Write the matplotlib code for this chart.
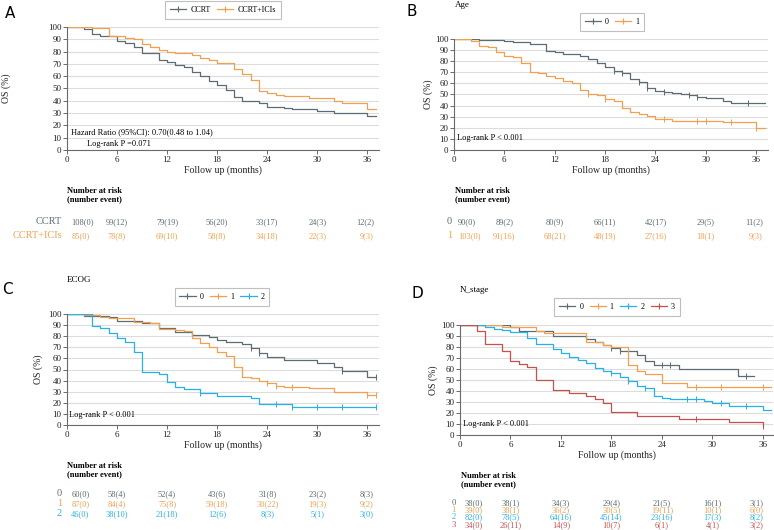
import matplotlib
matplotlib.use('Agg')
import matplotlib.pyplot as plt
import matplotlib.transforms as mtransforms
from matplotlib.lines import Line2D

plt.rcParams['font.family'] = ['Liberation Serif', 'DejaVu Serif']

GRAY = '#5c6c73'
ORANGE = '#f0a04e'
BLUE = '#27b1e6'
RED = '#c4514d'

W, H = 774, 530

# ---------------- data: panel A ----------------
a_ccrt_t = [0, 2, 3, 4, 5, 6, 7, 8, 9, 11, 12, 13, 14, 15, 16, 17, 18, 19, 20, 21, 23, 24, 26, 27, 30, 32, 36]
a_ccrt_s = [100, 98.5, 94, 93, 92.5, 89, 87, 84, 79, 73, 71.5, 69, 67.5, 63.5, 60, 56.5, 53, 48.5, 43, 39.5, 38,
            35, 34, 33, 31.5, 30, 27.5]
a_ccrt_end = 37
a_ccrt_cens = []
a_ici_t = [0, 3, 5, 7, 8, 9, 10, 11, 12, 13, 15, 16, 17, 18, 20, 21, 22, 23, 24, 25, 26, 29, 32, 33, 36]
a_ici_s = [100, 99, 92.5, 91, 90, 86, 84, 81.5, 80, 79, 77, 74.5, 73.5, 70.5, 66, 61.5, 57, 48, 46, 45, 43.5,
           42, 40, 38, 33]
a_ici_end = 37
a_ici_cens = []
a_labels = ['CCRT', 'CCRT+ICIs']
a_risk_ccrt = ['108(0)', '99(12)', '79(19)', '56(20)', '33(17)', '24(3)', '12(2)']
a_risk_ici = ['85(0)', '78(8)', '69(10)', '58(8)', '34(18)', '22(3)', '9(3)']

# ---------------- data: panel B (Age) ----------------
b0_t = [0, 3, 6, 7, 9, 11, 12, 13, 15, 16, 17, 18, 19, 20, 21, 22, 23, 24, 25, 26, 27, 28, 29, 30, 32, 33]
b0_s = [100, 99.5, 98.5, 97, 95.5, 89, 88, 86.5, 84.5, 82, 78, 75, 71.5, 69, 64, 61.5, 56, 53.5, 52, 51, 50,
        49.5, 48, 46.5, 44, 42]
b0_end = 37
b0_cens = [19, 20, 22, 23, 25, 28, 29, 35]
b1_t = [0, 2, 3, 4, 5, 6, 7, 8, 9, 10, 11, 12, 13, 14, 15, 16, 17, 18, 19, 20, 21, 22, 23, 24, 26, 32, 36]
b1_s = [100, 98, 94, 92.5, 88.5, 84.5, 83.5, 78, 70, 69, 66.5, 65, 62, 60.5, 54.5, 50.5, 49.5, 45.5, 44.5,
        37.5, 34.5, 32.5, 30.5, 28, 26.5, 25, 19.5]
b1_end = 37
b1_cens = [16, 18, 25, 29, 30, 33, 36]
b_risk0 = ['90(0)', '89(2)', '80(9)', '66(11)', '42(17)', '29(5)', '11(2)']
b_risk1 = ['103(0)', '91(16)', '68(21)', '48(19)', '27(16)', '18(1)', '9(3)']

# ---------------- data: panel C (ECOG) ----------------
c0_t = [0, 2, 5, 6, 9, 11, 13, 15, 17, 18, 19, 21, 22, 23, 24, 26, 30, 32, 33, 36]
c0_s = [100, 98.5, 97, 93.5, 91.5, 87, 83.5, 81.5, 79, 77, 75, 73, 69, 64.5, 61, 59, 56, 52.5, 49, 43]
c0_end = 37
c0_cens = [22, 23, 33, 37]
c1_t = [0, 2, 4, 5, 8, 10, 11, 13, 14, 15, 16, 17, 18, 19, 20, 21, 22, 23, 24, 25, 26, 29, 32, 36]
c1_s = [100, 99, 97.5, 96.5, 93, 92, 86.5, 85.5, 85, 78, 73.5, 70, 65.5, 62, 52, 43.5, 42.5, 40, 37.5, 35.5,
        34.5, 33, 30, 27]
c1_end = 37
c1_cens = [24, 25, 27, 36, 37]
c2_t = [0, 3, 4, 5, 6, 7, 8, 9, 11, 12, 13, 14, 16, 18, 22, 23, 27]
c2_s = [100, 89, 87, 82.5, 78.5, 74.5, 65.5, 48, 45.5, 39, 34.5, 32.5, 28.5, 26, 24, 19, 16.5]
c2_end = 37
c2_cens = [16, 25, 27, 30, 33, 37]
c_risk0 = ['60(0)', '58(4)', '52(4)', '43(6)', '31(8)', '23(2)', '8(3)']
c_risk1 = ['87(0)', '84(4)', '75(8)', '59(18)', '30(22)', '19(3)', '9(2)']
c_risk2 = ['46(0)', '38(10)', '21(18)', '12(6)', '8(3)', '5(1)', '3(0)']

# ---------------- data: panel D (N_stage) ----------------
d0_t = [0, 6, 7, 9, 11, 15, 16, 17, 18, 19, 21, 22, 23, 26, 33]
d0_s = [100, 98, 95, 94.5, 90, 87, 84.5, 82, 79, 76, 73, 67, 63.5, 60, 53.5]
d0_end = 35
d0_cens = [18, 19, 24, 25, 34]
d1_t = [0, 5, 9, 10, 15, 17, 18, 20, 21, 22, 24, 27]
d1_s = [100, 98.5, 95, 92.5, 84.5, 82, 80, 64, 58.5, 55.5, 47, 44]
d1_end = 37
d1_cens = [28, 31, 36]
d2_t = [0, 3, 4, 5, 6, 8, 9, 11, 12, 13, 14, 15, 16, 17, 18, 19, 20, 21, 22, 23, 24, 25, 29, 30, 32, 36]
d2_s = [100, 98, 96.5, 95.5, 94, 88, 83, 78, 74.5, 71, 68, 65.5, 61, 58.5, 56.5, 53, 49, 45, 43, 35.5, 34, 33,
        31, 29.5, 26.5, 23]
d2_end = 37
d2_cens = [18, 20, 22, 27, 28, 31, 34]
d3_t = [0, 2, 3, 5, 6, 7, 8, 9, 11, 13, 15, 16, 17, 18, 21, 26, 32, 36]
d3_s = [100, 94.5, 82.5, 76, 67.5, 64.5, 62, 50, 41, 38, 35.5, 32.5, 29.5, 20.5, 17.5, 15, 11.5, 8]
d3_end = 36
d3_cens = [28, 36]
d_risk0 = ['38(0)', '38(1)', '34(3)', '29(4)', '21(5)', '16(1)', '3(1)']
d_risk1 = ['39(0)', '38(1)', '36(2)', '30(5)', '19(11)', '10(1)', '6(0)']
d_risk2 = ['82(0)', '78(5)', '64(16)', '45(14)', '23(16)', '17(3)', '8(2)']
d_risk3 = ['34(0)', '26(11)', '14(9)', '10(7)', '6(1)', '4(1)', '3(2)']

risk_times = [0, 6, 12, 18, 24, 30, 36]

fig = plt.figure(figsize=(W / 100, H / 100), dpi=100)


def fy(px):
    return 1 - px / H


def make_axes(left, right, top, bottom, xmax):
    ax = fig.add_axes([left / W, fy(bottom), (right - left) / W, (bottom - top) / H])
    ax.set_xlim(0, xmax)
    ax.set_ylim(0, 100)
    ax.set_xticks([0, 6, 12, 18, 24, 30, 36])
    ax.set_yticks(range(0, 101, 10))
    ax.grid(axis='y', color='#dcdcdc', linewidth=0.8)
    ax.set_axisbelow(True)
    for s in ['top', 'right']:
        ax.spines[s].set_visible(False)
    for s in ['left', 'bottom']:
        ax.spines[s].set_color('#6a6a6a')
        ax.spines[s].set_linewidth(0.8)
    ax.tick_params(labelsize=6.5, length=3, width=0.7, color='#6a6a6a', pad=1, labelcolor='#222222')
    ax.set_xlabel('Follow up (months)', fontsize=7, labelpad=1, color='#222222')
    ax.set_ylabel('OS (%)', fontsize=7, labelpad=2, color='#222222')
    return ax


def km(ax, t, s, end, cens, color):
    ax.step(t + [end], s + [s[-1]], where='post', color=color, linewidth=0.9)
    cy = []
    for c in cens:
        idx = max(i for i, ti in enumerate(t) if ti <= c)
        cy.append(s[idx])
    if cens:
        ax.plot(cens, cy, linestyle='none', marker='|', markersize=4.5, markeredgewidth=0.7, color=color)


def legend(ax, labels, colors, cx, cy):
    handles = [Line2D([0], [0], color=c, linewidth=0.9, marker='+', markersize=5, markeredgewidth=0.8)
               for c in colors]
    leg = fig.legend(handles, labels, loc='center', bbox_to_anchor=(cx / W, fy(cy)), ncol=len(labels),
                     fontsize=5.8, frameon=True, fancybox=False, handlelength=2.0, handletextpad=0.5,
                     columnspacing=0.8, borderpad=0.6, edgecolor='#b0b0b0')
    leg.get_frame().set_linewidth(0.8)


def risk_table(ax, rows, labels, colors, header_y, row_ys, label_x, header_x, last_t, lab_size):
    tr = mtransforms.blended_transform_factory(ax.transData, fig.transFigure)
    fig.text(header_x / W, fy(header_y), 'Number at risk\n(number event)', fontsize=6, fontweight='bold',
             ha='left', va='center', linespacing=1.05)
    for vals, lab, col, yy in zip(rows, labels, colors, row_ys):
        fig.text(label_x / W, fy(yy), lab, fontsize=lab_size, color=col, ha='right', va='center')
        for i, (t, v) in enumerate(zip(risk_times, vals)):
            if i == 0:
                ax.text(0.5, fy(yy), v, transform=tr, fontsize=6, color=col, ha='left', va='center')
            elif i == len(vals) - 1:
                ax.text(last_t, fy(yy), v, transform=tr, fontsize=6, color=col, ha='right', va='center')
            else:
                ax.text(t, fy(yy), v, transform=tr, fontsize=6, color=col, ha='center', va='center')


# ---------------- Panel A ----------------
axA = make_axes(67, 379, 27, 150, 37.4)
km(axA, a_ccrt_t, a_ccrt_s, a_ccrt_end, a_ccrt_cens, GRAY)
km(axA, a_ici_t, a_ici_s, a_ici_end, a_ici_cens, ORANGE)
axA.yaxis.set_label_coords(-0.18, 0.5)
axA.text(0.5, 14.5, 'Hazard Ratio (95%CI): 0.70(0.48 to 1.04)', fontsize=6, ha='left', va='center')
axA.text(2.4, 5, 'Log-rank P =0.071', fontsize=6, ha='left', va='center')
legend(axA, a_labels, [GRAY, ORANGE], 223, 10)
risk_table(axA, [a_risk_ccrt, a_risk_ici], a_labels, [GRAY, ORANGE], 195, [222, 236], 62, 67, 36.8, 7.5)
fig.text(5 / W, fy(13), 'A', fontsize=11, family='DejaVu Sans', ha='left', va='center')

# ---------------- Panel B ----------------
axB = make_axes(454, 768, 39, 150, 37.4)
km(axB, b0_t, b0_s, b0_end, b0_cens, GRAY)
km(axB, b1_t, b1_s, b1_end, b1_cens, ORANGE)
axB.yaxis.set_label_coords(-0.067, 0.5)
axB.text(0.3, 11, 'Log-rank P < 0.001', fontsize=6, ha='left', va='center')
legend(axB, ['0', '1'], [GRAY, ORANGE], 612, 22)
fig.text(455 / W, fy(5), 'Age', fontsize=6.5, ha='left', va='center')
risk_table(axB, [b_risk0, b_risk1], ['0', '1'], [GRAY, ORANGE], 195, [222, 236], 452, 455, 36.8, 7.5)
fig.text(406 / W, fy(11), 'B', fontsize=11, family='DejaVu Sans', ha='left', va='center')

# ---------------- Panel C ----------------
axC = make_axes(67, 379, 314, 425, 37.4)
km(axC, c0_t, c0_s, c0_end, c0_cens, GRAY)
km(axC, c1_t, c1_s, c1_end, c1_cens, ORANGE)
km(axC, c2_t, c2_s, c2_end, c2_cens, BLUE)
axC.yaxis.set_label_coords(-0.077, 0.5)
axC.text(0.2, 9, 'Log-rank P < 0.001', fontsize=6, ha='left', va='center')
legend(axC, ['0', '1', '2'], [GRAY, ORANGE, BLUE], 222, 297)
fig.text(67 / W, fy(280), 'ECOG', fontsize=6.5, ha='left', va='center')
risk_table(axC, [c_risk0, c_risk1, c_risk2], ['0', '1', '2'], [GRAY, ORANGE, BLUE], 470, [494, 504, 514],
           62, 67, 36.8, 7.5)
fig.text(2 / W, fy(290), 'C', fontsize=11, family='DejaVu Sans', ha='left', va='center')

# ---------------- Panel D ----------------
axD = make_axes(460, 773, 325, 435, 37.2)
km(axD, d0_t, d0_s, d0_end, d0_cens, GRAY)
km(axD, d1_t, d1_s, d1_end, d1_cens, ORANGE)
km(axD, d2_t, d2_s, d2_end, d2_cens, BLUE)
km(axD, d3_t, d3_s, d3_end, d3_cens, RED)
axD.yaxis.set_label_coords(-0.07, 0.5)
axD.text(0.3, 10, 'Log-rank P < 0.001', fontsize=6, ha='left', va='center')
legend(axD, ['0', '1', '2', '3'], [GRAY, ORANGE, BLUE, RED], 617, 307)
fig.text(460 / W, fy(290), 'N_stage', fontsize=6.5, ha='left', va='center')
risk_table(axD, [d_risk0, d_risk1, d_risk2, d_risk3], ['0', '1', '2', '3'], [GRAY, ORANGE, BLUE, RED], 480,
           [503, 510, 517, 525], 456, 461, 36.1, 6.2)
fig.text(411 / W, fy(293), 'D', fontsize=11, family='DejaVu Sans', ha='left', va='center')

fig.savefig('out.png', dpi=100)
